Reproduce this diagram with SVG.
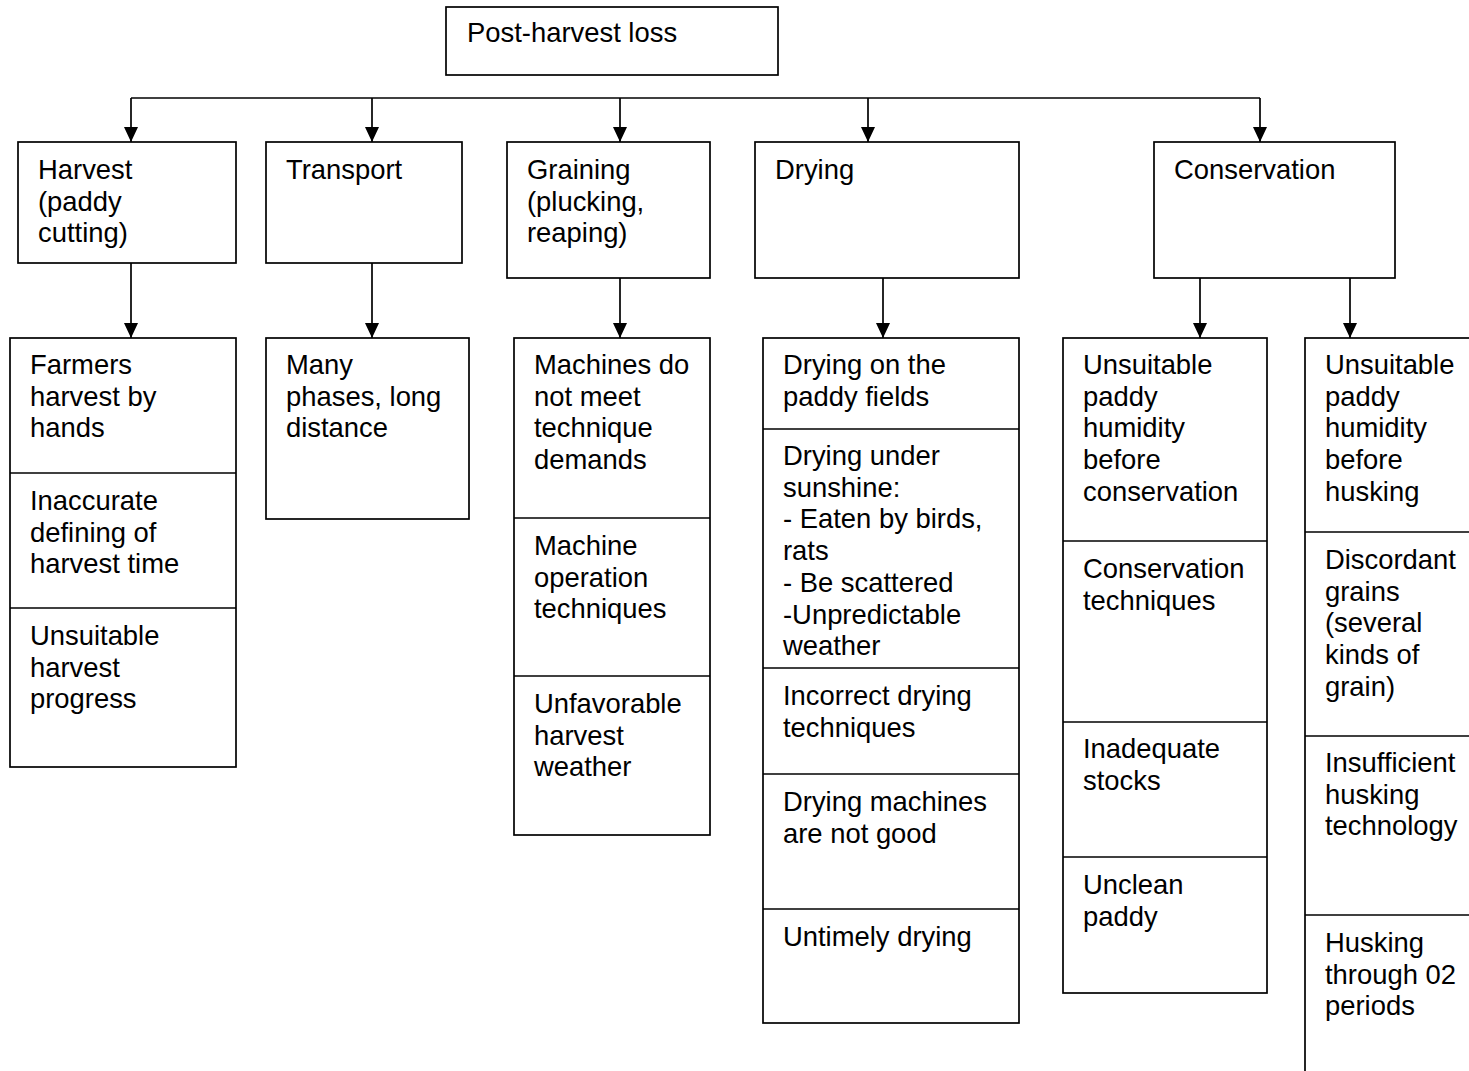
<svg xmlns="http://www.w3.org/2000/svg" width="1469" height="1071" viewBox="0 0 1469 1071">
  <style>
    .box { fill: #ffffff; stroke: #000000; stroke-width: 1.7; }
    .div { stroke: #000000; stroke-width: 1.7; }
    .lbl { font-family: "Liberation Sans", Arial, sans-serif; font-size: 27.4px; fill: #000000; }
    .conn { fill: none; stroke: #000000; stroke-width: 1.7; }
  </style>
  <defs>
    <marker id="arrow" markerWidth="15" markerHeight="15" refX="15" refY="7" orient="auto" markerUnits="userSpaceOnUse">
      <path d="M0,0 L15,7 L0,14 Z" fill="#000000"/>
    </marker>
  </defs>
  <rect width="1469" height="1071" fill="#ffffff"/>

  <!-- connectors -->
  <g id="connectors">
    <path class="conn" d="M131,98 H1260"/>
    <path class="conn" d="M131,98 V142" marker-end="url(#arrow)"/>
    <path class="conn" d="M372,98 V142" marker-end="url(#arrow)"/>
    <path class="conn" d="M620,98 V142" marker-end="url(#arrow)"/>
    <path class="conn" d="M868,98 V142" marker-end="url(#arrow)"/>
    <path class="conn" d="M1260,98 V142" marker-end="url(#arrow)"/>
    <path class="conn" d="M131,263 V338" marker-end="url(#arrow)"/>
    <path class="conn" d="M372,263 V338" marker-end="url(#arrow)"/>
    <path class="conn" d="M620,278 V338" marker-end="url(#arrow)"/>
    <path class="conn" d="M883,278 V338" marker-end="url(#arrow)"/>
    <path class="conn" d="M1200,278 V338" marker-end="url(#arrow)"/>
    <path class="conn" d="M1350,278 V338" marker-end="url(#arrow)"/>
  </g>

  <!-- root -->
  <g id="post-harvest-loss">
    <rect class="box" x="446" y="7" width="332" height="68"/>
    <text class="lbl" x="467" y="42">Post-harvest loss</text>
  </g>

  <!-- stages -->
  <g id="harvest">
    <rect class="box" x="18" y="142" width="218" height="121"/>
    <text class="lbl" x="38" y="179"><tspan x="38">Harvest</tspan><tspan x="38" dy="31.5">(paddy</tspan><tspan x="38" dy="31.5">cutting)</tspan></text>
  </g>
  <g id="transport">
    <rect class="box" x="266" y="142" width="196" height="121"/>
    <text class="lbl" x="286" y="179">Transport</text>
  </g>
  <g id="graining">
    <rect class="box" x="507" y="142" width="203" height="136"/>
    <text class="lbl" x="527" y="179"><tspan x="527">Graining</tspan><tspan x="527" dy="31.5">(plucking,</tspan><tspan x="527" dy="31.5">reaping)</tspan></text>
  </g>
  <g id="drying">
    <rect class="box" x="755" y="142" width="264" height="136"/>
    <text class="lbl" x="775" y="179">Drying</text>
  </g>
  <g id="conservation">
    <rect class="box" x="1154" y="142" width="241" height="136"/>
    <text class="lbl" x="1174" y="179">Conservation</text>
  </g>

  <!-- harvest causes -->
  <g id="harvest-causes">
    <rect class="box" x="10" y="338" width="226" height="429"/>
    <line class="div" x1="10" y1="473" x2="236" y2="473"/>
    <line class="div" x1="10" y1="608" x2="236" y2="608"/>
    <text class="lbl" x="30" y="374"><tspan x="30">Farmers</tspan><tspan x="30" dy="31.7">harvest by</tspan><tspan x="30" dy="31.7">hands</tspan></text>
    <text class="lbl" x="30" y="510"><tspan x="30">Inaccurate</tspan><tspan x="30" dy="31.7">defining of</tspan><tspan x="30" dy="31.7">harvest time</tspan></text>
    <text class="lbl" x="30" y="645"><tspan x="30">Unsuitable</tspan><tspan x="30" dy="31.7">harvest</tspan><tspan x="30" dy="31.7">progress</tspan></text>
  </g>

  <!-- transport causes -->
  <g id="transport-causes">
    <rect class="box" x="266" y="338" width="203" height="181"/>
    <text class="lbl" x="286" y="374"><tspan x="286">Many</tspan><tspan x="286" dy="31.7">phases, long</tspan><tspan x="286" dy="31.7">distance</tspan></text>
  </g>

  <!-- graining causes -->
  <g id="graining-causes">
    <rect class="box" x="514" y="338" width="196" height="497"/>
    <line class="div" x1="514" y1="518" x2="710" y2="518"/>
    <line class="div" x1="514" y1="676" x2="710" y2="676"/>
    <text class="lbl" x="534" y="374"><tspan x="534">Machines do</tspan><tspan x="534" dy="31.7">not meet</tspan><tspan x="534" dy="31.7">technique</tspan><tspan x="534" dy="31.7">demands</tspan></text>
    <text class="lbl" x="534" y="555"><tspan x="534">Machine</tspan><tspan x="534" dy="31.7">operation</tspan><tspan x="534" dy="31.7">techniques</tspan></text>
    <text class="lbl" x="534" y="713"><tspan x="534">Unfavorable</tspan><tspan x="534" dy="31.7">harvest</tspan><tspan x="534" dy="31.7">weather</tspan></text>
  </g>

  <!-- drying causes -->
  <g id="drying-causes">
    <rect class="box" x="763" y="338" width="256" height="685"/>
    <line class="div" x1="763" y1="429" x2="1019" y2="429"/>
    <line class="div" x1="763" y1="668" x2="1019" y2="668"/>
    <line class="div" x1="763" y1="774" x2="1019" y2="774"/>
    <line class="div" x1="763" y1="909" x2="1019" y2="909"/>
    <text class="lbl" x="783" y="374"><tspan x="783">Drying on the</tspan><tspan x="783" dy="31.7">paddy fields</tspan></text>
    <text class="lbl" x="783" y="465"><tspan x="783">Drying under</tspan><tspan x="783" dy="31.7">sunshine:</tspan><tspan x="783" dy="31.7">- Eaten by birds,</tspan><tspan x="783" dy="31.7">rats</tspan><tspan x="783" dy="31.7">- Be scattered</tspan><tspan x="783" dy="31.7">-Unpredictable</tspan><tspan x="783" dy="31.7">weather</tspan></text>
    <text class="lbl" x="783" y="705"><tspan x="783">Incorrect drying</tspan><tspan x="783" dy="31.7">techniques</tspan></text>
    <text class="lbl" x="783" y="811"><tspan x="783">Drying machines</tspan><tspan x="783" dy="31.7">are not good</tspan></text>
    <text class="lbl" x="783" y="946">Untimely drying</text>
  </g>

  <!-- conservation causes -->
  <g id="conservation-causes">
    <rect class="box" x="1063" y="338" width="204" height="655"/>
    <line class="div" x1="1063" y1="541" x2="1267" y2="541"/>
    <line class="div" x1="1063" y1="722" x2="1267" y2="722"/>
    <line class="div" x1="1063" y1="857" x2="1267" y2="857"/>
    <text class="lbl" x="1083" y="374"><tspan x="1083">Unsuitable</tspan><tspan x="1083" dy="31.7">paddy</tspan><tspan x="1083" dy="31.7">humidity</tspan><tspan x="1083" dy="31.7">before</tspan><tspan x="1083" dy="31.7">conservation</tspan></text>
    <text class="lbl" x="1083" y="578"><tspan x="1083">Conservation</tspan><tspan x="1083" dy="31.7">techniques</tspan></text>
    <text class="lbl" x="1083" y="758"><tspan x="1083">Inadequate</tspan><tspan x="1083" dy="31.7">stocks</tspan></text>
    <text class="lbl" x="1083" y="894"><tspan x="1083">Unclean</tspan><tspan x="1083" dy="31.7">paddy</tspan></text>
  </g>

  <!-- husking causes -->
  <g id="husking-causes">
    <rect class="box" x="1305" y="338" width="180" height="760"/>
    <line class="div" x1="1305" y1="532" x2="1475" y2="532"/>
    <line class="div" x1="1305" y1="736" x2="1475" y2="736"/>
    <line class="div" x1="1305" y1="915" x2="1475" y2="915"/>
    <text class="lbl" x="1325" y="374"><tspan x="1325">Unsuitable</tspan><tspan x="1325" dy="31.7">paddy</tspan><tspan x="1325" dy="31.7">humidity</tspan><tspan x="1325" dy="31.7">before</tspan><tspan x="1325" dy="31.7">husking</tspan></text>
    <text class="lbl" x="1325" y="569"><tspan x="1325">Discordant</tspan><tspan x="1325" dy="31.7">grains</tspan><tspan x="1325" dy="31.7">(several</tspan><tspan x="1325" dy="31.7">kinds of</tspan><tspan x="1325" dy="31.7">grain)</tspan></text>
    <text class="lbl" x="1325" y="772"><tspan x="1325">Insufficient</tspan><tspan x="1325" dy="31.7">husking</tspan><tspan x="1325" dy="31.7">technology</tspan></text>
    <text class="lbl" x="1325" y="952"><tspan x="1325">Husking</tspan><tspan x="1325" dy="31.7">through 02</tspan><tspan x="1325" dy="31.7">periods</tspan></text>
  </g>
</svg>
